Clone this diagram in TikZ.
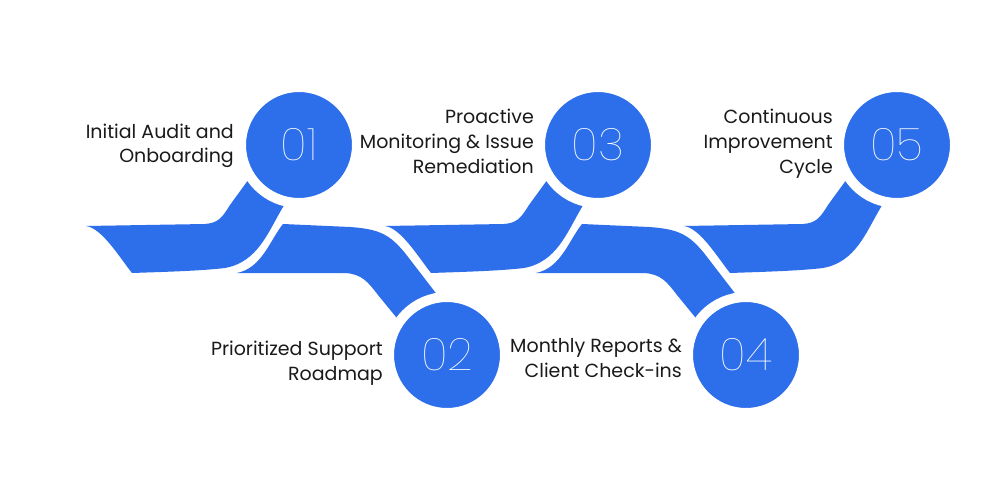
\documentclass[tikz,border=0pt]{standalone}
\usepackage{fontspec}
\setmainfont{Poppins}
\newfontfamily\numfont{Poppins Thin}
\definecolor{rblue}{RGB}{45,110,235}
\definecolor{rtext}{RGB}{26,26,26}
\begin{document}
\begin{tikzpicture}[x=1pt,y=-1pt,
  band/.style={fill=rblue},
  disc/.style={circle,fill=rblue,draw=white,line width=10pt,minimum size=116pt,inner sep=0pt,
    text=white,font=\numfont\fontsize{45}{45}\selectfont},
  lbl/.style={anchor=base east,text=rtext,font=\fontsize{19}{25}\selectfont,inner sep=0pt}]
\useasboundingbox (0,0) rectangle (1000,500);
\fill[white] (0,0) rectangle (1000,500);
% odd bands (rising to the upper circles)
\foreach \s in {0,299,598}{
  \fill[band,shift={(\s,0)}] (86,226) -- (205,224) .. controls (218,223) and (222,218) .. (230,205)
    -- (262,161) -- (292,192) -- (283,207) .. controls (268,232) and (258,262) .. (225,268)
    .. controls (200,271) and (160,272) .. (132,273) .. controls (120,258) and (102,228) .. (86,226) -- cycle;
}
% even bands (falling to the lower circles)
\foreach \s in {0,299}{
  \fill[band,shift={(\s,0)}] (237,273) .. controls (262,268) and (270,240) .. (283,224)
    -- (350,227) .. controls (380,229) and (390,235) .. (405,253) -- (445,305) -- (405,328)
    -- (378,295) .. controls (368,282) and (362,274) .. (345,273) -- cycle;
}
\node[disc] (c1) at (299,145) {01};
\node[disc] (c2) at (447,355) {02};
\node[disc] (c3) at (598,145) {03};
\node[disc] (c4) at (746,355) {04};
\node[disc] (c5) at (897,145) {05};
\node[lbl] (t1a) at (234,138) {Initial Audit and};
\node[lbl] (t1b) at (234,162) {Onboarding};
\node[lbl] (t2a) at (383,355) {Prioritized Support};
\node[lbl] (t2b) at (383,380) {Roadmap};
\node[lbl] (t3a) at (534,123) {Proactive};
\node[lbl] (t3b) at (534,148) {Monitoring \& Issue};
\node[lbl] (t3c) at (534,173) {Remediation};
\node[lbl] (t4a) at (682,352) {Monthly Reports \&};
\node[lbl] (t4b) at (682,377) {Client Check-ins};
\node[lbl] (t5a) at (833,123) {Continuous};
\node[lbl] (t5b) at (833,148) {Improvement};
\node[lbl] (t5c) at (833,173) {Cycle};
\end{tikzpicture}
\end{document}
